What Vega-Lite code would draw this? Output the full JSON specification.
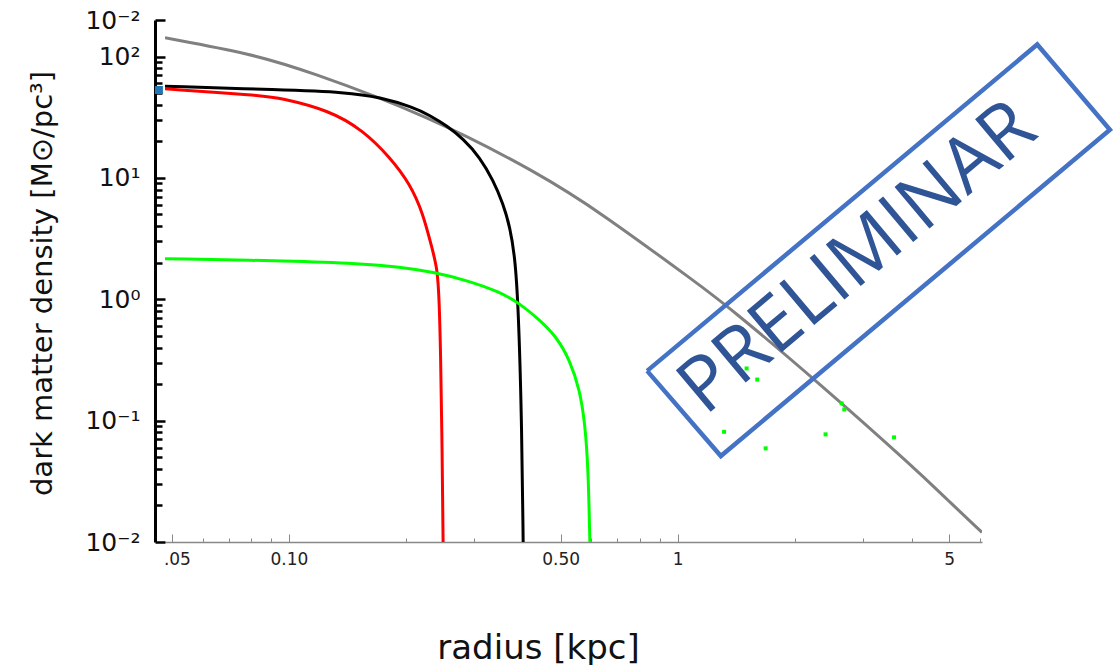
{
  "$schema": "https://vega.github.io/schema/vega-lite/v6.json",
  "width": 817,
  "height": 522,
  "autosize": {"type": "none"},
  "padding": {"left": 165, "top": 20, "right": 138, "bottom": 123},
  "background": "white",
  "config": {"view": {"stroke": null}},
  "datasets": {
    "curves": [
      {"series": "gray", "r": 0.048, "rho": 142.6},
      {"series": "gray", "r": 0.0801, "rho": 105.2},
      {"series": "gray", "r": 0.111, "rho": 76.7},
      {"series": "gray", "r": 0.226, "rho": 33.0},
      {"series": "gray", "r": 0.4426, "rho": 10.8},
      {"series": "gray", "r": 0.631, "rho": 5.23},
      {"series": "gray", "r": 1.141, "rho": 1.304},
      {"series": "gray", "r": 1.337, "rho": 0.892},
      {"series": "gray", "r": 2.32, "rho": 0.2024},
      {"series": "gray", "r": 4.12, "rho": 0.0392},
      {"series": "gray", "r": 4.92, "rho": 0.0226},
      {"series": "gray", "r": 6.07, "rho": 0.012},
      {"series": "black", "r": 0.048, "rho": 56.9},
      {"series": "black", "r": 0.0948, "rho": 53.2},
      {"series": "black", "r": 0.1408, "rho": 50.8},
      {"series": "black", "r": 0.1714, "rho": 46.2},
      {"series": "black", "r": 0.2088, "rho": 38.3},
      {"series": "black", "r": 0.2305, "rho": 32.7},
      {"series": "black", "r": 0.2544, "rho": 27.0},
      {"series": "black", "r": 0.2808, "rho": 21.0},
      {"series": "black", "r": 0.31, "rho": 14.8},
      {"series": "black", "r": 0.3354, "rho": 9.54},
      {"series": "black", "r": 0.3558, "rho": 6.13},
      {"series": "black", "r": 0.3704, "rho": 3.94},
      {"series": "black", "r": 0.3815, "rho": 2.23},
      {"series": "black", "r": 0.389, "rho": 0.921},
      {"series": "black", "r": 0.397, "rho": 0.107},
      {"series": "black", "r": 0.4006, "rho": 0.01},
      {"series": "red", "r": 0.048, "rho": 54.2},
      {"series": "red", "r": 0.0842, "rho": 47.8},
      {"series": "red", "r": 0.0948, "rho": 45.7},
      {"series": "red", "r": 0.1275, "rho": 35.9},
      {"series": "red", "r": 0.1553, "rho": 24.6},
      {"series": "red", "r": 0.182, "rho": 14.8},
      {"series": "red", "r": 0.2048, "rho": 8.96},
      {"series": "red", "r": 0.2215, "rho": 5.07},
      {"series": "red", "r": 0.2328, "rho": 2.72},
      {"series": "red", "r": 0.241, "rho": 1.8},
      {"series": "red", "r": 0.2436, "rho": 0.981},
      {"series": "red", "r": 0.2456, "rho": 0.38},
      {"series": "red", "r": 0.2479, "rho": 0.0571},
      {"series": "red", "r": 0.2493, "rho": 0.01},
      {"series": "green", "r": 0.048, "rho": 2.16},
      {"series": "green", "r": 0.1026, "rho": 2.07},
      {"series": "green", "r": 0.1523, "rho": 1.97},
      {"series": "green", "r": 0.193, "rho": 1.845},
      {"series": "green", "r": 0.235, "rho": 1.678},
      {"series": "green", "r": 0.2866, "rho": 1.434},
      {"series": "green", "r": 0.349, "rho": 1.149},
      {"series": "green", "r": 0.3929, "rho": 0.922},
      {"series": "green", "r": 0.4422, "rho": 0.672},
      {"series": "green", "r": 0.4883, "rho": 0.4896},
      {"series": "green", "r": 0.5283, "rho": 0.3148},
      {"series": "green", "r": 0.5605, "rho": 0.1782},
      {"series": "green", "r": 0.5775, "rho": 0.0948},
      {"series": "green", "r": 0.5888, "rho": 0.0417},
      {"series": "green", "r": 0.5947, "rho": 0.01}
    ],
    "dots": [
      {"r": 1.505, "rho": 0.269},
      {"r": 1.603, "rho": 0.218},
      {"r": 1.317, "rho": 0.0809},
      {"r": 1.685, "rho": 0.0591},
      {"r": 2.403, "rho": 0.0771},
      {"r": 2.642, "rho": 0.1387},
      {"r": 2.685, "rho": 0.1236},
      {"r": 3.605, "rho": 0.0728}
    ],
    "marker": [{"r": 0.0463, "rho": 53.0}],
    "box": [
      {"i": 0, "r": 0.835, "rho": 0.257},
      {"i": 1, "r": 8.42, "rho": 125.6},
      {"i": 2, "r": 12.95, "rho": 24.9},
      {"i": 3, "r": 1.292, "rho": 0.0511},
      {"i": 4, "r": 0.835, "rho": 0.257}
    ],
    "stamp": [{"r": 2.91, "rho": 2.175, "label": "PRELIMINAR"}]
  },
  "layer": [
    {
      "data": {"name": "curves"},
      "mark": {"type": "line", "interpolate": "basis", "strokeWidth": 3, "clip": true},
      "encoding": {
        "x": {
          "field": "r", "type": "quantitative",
          "scale": {"type": "log", "domain": [0.048, 6.07], "nice": false},
          "axis": {
            "values": [0.05, 0.06, 0.07, 0.08, 0.09, 0.1, 0.2, 0.3, 0.4, 0.5, 0.6, 0.7, 0.8, 0.9, 1, 2, 3, 4, 5, 6],
            "labelExpr": "datum.value == 0.05 ? '.05' : datum.value == 0.1 ? '0.10' : datum.value == 0.5 ? '0.50' : datum.value == 1 ? '1' : datum.value == 5 ? '5' : ''",
            "tickSize": {"condition": {"test": "datum.value == 0.05 || datum.value == 0.1 || datum.value == 0.5 || datum.value == 1 || datum.value == 5", "value": -8}, "value": -4},
            "labelOffset": {"condition": {"test": "datum.value == 0.05", "value": 5}, "value": 0},
            "grid": false,
            "domainColor": "#888888",
            "domainWidth": 1.5,
            "tickColor": "#888888",
            "tickWidth": 1,
            "labelFont": "DejaVu Sans",
            "labelFontSize": 17,
            "labelColor": "#222222",
            "labelPadding": 17,
            "labelFlush": false,
            "labelOverlap": false,
            "title": "radius [kpc]",
            "titleFont": "DejaVu Sans",
            "titleFontSize": 34,
            "titleFontWeight": "normal",
            "titleColor": "#111111",
            "titleX": 373,
            "titleY": 106,
            "titleAlign": "center",
            "titleBaseline": "middle"
          }
        },
        "y": {
          "field": "rho", "type": "quantitative",
          "scale": {"type": "log", "domain": [0.01, 200], "nice": false},
          "axis": {
            "offset": 10,
            "values": [0.01, 0.02, 0.03, 0.04, 0.05, 0.06, 0.07, 0.08, 0.09, 0.1, 0.2, 0.3, 0.4, 0.5, 0.6, 0.7, 0.8, 0.9, 1, 2, 3, 4, 5, 6, 7, 8, 9, 10, 20, 30, 40, 50, 60, 70, 80, 90, 100, 200],
            "labelExpr": "datum.value == 200 ? '10⁻²' : datum.value == 100 ? '10²' : datum.value == 10 ? '10¹' : datum.value == 1 ? '10⁰' : datum.value == 0.1 ? '10⁻¹' : datum.value == 0.01 ? '10⁻²' : ''",
            "tickSize": {"condition": {"test": "datum.value == 0.01 || datum.value == 0.1 || datum.value == 1 || datum.value == 10 || datum.value == 100 || datum.value == 200", "value": -10}, "value": -7},
            "grid": false,
            "domainColor": "#000000",
            "domainWidth": 3,
            "tickColor": "#000000",
            "tickWidth": 2.5,
            "labelFont": "DejaVu Sans",
            "labelFontSize": 25,
            "labelColor": "#111111",
            "labelPadding": 25,
            "labelFlush": false,
            "labelOverlap": false,
            "labelBound": false,
            "title": "dark matter density [M⊙/pc³]",
            "titleFont": "DejaVu Sans",
            "titleFontSize": 29,
            "titleFontWeight": "normal",
            "titleColor": "#111111",
            "titleAngle": -90,
            "titleX": -113,
            "titleY": 263,
            "titleAlign": "center",
            "titleBaseline": "middle"
          }
        },
        "color": {
          "field": "series", "type": "nominal", "legend": null,
          "scale": {"domain": ["gray", "black", "red", "green"], "range": ["#808080", "#000000", "#ff0000", "#00ff00"]}
        }
      }
    },
    {
      "data": {"name": "dots"},
      "mark": {"type": "square", "size": 16, "color": "#00ff00", "opacity": 1},
      "encoding": {
        "x": {"field": "r", "type": "quantitative"},
        "y": {"field": "rho", "type": "quantitative"}
      }
    },
    {
      "data": {"name": "marker"},
      "mark": {"type": "square", "size": 64, "color": "#1f77b4", "opacity": 1},
      "encoding": {
        "x": {"field": "r", "type": "quantitative"},
        "y": {"field": "rho", "type": "quantitative"}
      }
    },
    {
      "data": {"name": "box"},
      "mark": {"type": "line", "color": "#4472c4", "strokeWidth": 4.5, "interpolate": "linear", "clip": false},
      "encoding": {
        "x": {"field": "r", "type": "quantitative"},
        "y": {"field": "rho", "type": "quantitative"},
        "order": {"field": "i", "type": "quantitative"}
      }
    },
    {
      "data": {"name": "stamp"},
      "mark": {"type": "text", "font": "Open Sans", "fontSize": 76, "color": "#2f5597", "angle": 320, "align": "center", "baseline": "middle"},
      "encoding": {
        "x": {"field": "r", "type": "quantitative"},
        "y": {"field": "rho", "type": "quantitative"},
        "text": {"field": "label", "type": "nominal"}
      }
    }
  ]
}
